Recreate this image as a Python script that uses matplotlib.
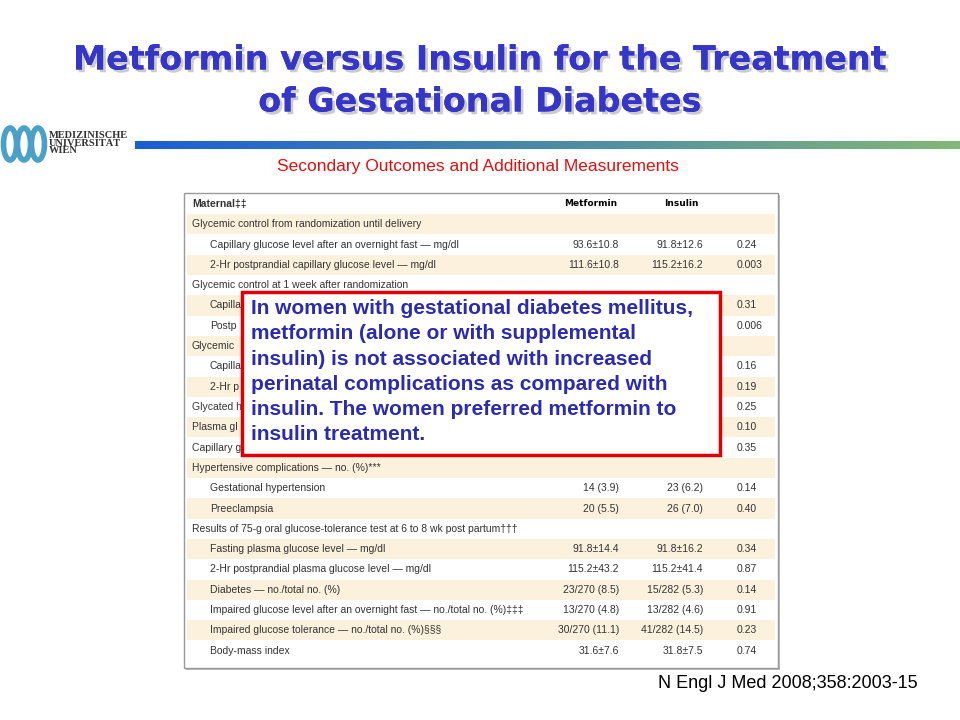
import numpy as np
import matplotlib.pyplot as plt
import matplotlib.patheffects as pe
from matplotlib.patches import Rectangle, Arc
from matplotlib.colors import LinearSegmentedColormap

# --- Data ---
# rows partly hidden behind the callout keep only their visible fragment
row_labels = [
    "Maternal\u2021\u2021",
    "Glycemic control from randomization until delivery",
    "Capillary glucose level after an overnight fast \u2014 mg/dl",
    "2-Hr postprandial capillary glucose level \u2014 mg/dl",
    "Glycemic control at 1 week after randomization",
    "Capilla",
    "Postp",
    "Glycemic",
    "Capilla",
    "2-Hr p",
    "Glycated h",
    "Plasma gl",
    "Capillary g",
    "Hypertensive complications \u2014 no. (%)***",
    "Gestational hypertension",
    "Preeclampsia",
    "Results of 75-g oral glucose-tolerance test at 6 to 8 wk post partum\u2020\u2020\u2020",
    "Fasting plasma glucose level \u2014 mg/dl",
    "2-Hr postprandial plasma glucose level \u2014 mg/dl",
    "Diabetes \u2014 no./total no. (%)",
    "Impaired glucose level after an overnight fast \u2014 no./total no. (%)\u2021\u2021\u2021",
    "Impaired glucose tolerance \u2014 no./total no. (%)\u00a7\u00a7\u00a7",
    "Body-mass index",
]
indented = [0, 0, 1, 1, 0, 1, 1, 0, 1, 1, 0, 0, 0, 0, 1, 1, 0, 1, 1, 1, 1, 1, 1]
metformin = ["Metformin", "", "93.6\u00b110.8", "111.6\u00b110.8", "", "", "", "", "", "", "", "", "", "",
             "14 (3.9)", "20 (5.5)", "", "91.8\u00b114.4", "115.2\u00b143.2", "23/270 (8.5)",
             "13/270 (4.8)", "30/270 (11.1)", "31.6\u00b17.6"]
insulin = ["Insulin", "", "91.8\u00b112.6", "115.2\u00b116.2", "", "", "", "", "", "", "", "", "", "",
           "23 (6.2)", "26 (7.0)", "", "91.8\u00b116.2", "115.2\u00b141.4", "15/282 (5.3)",
           "13/282 (4.6)", "41/282 (14.5)", "31.8\u00b17.5"]
p_values = ["", "", "0.24", "0.003", "", "0.31", "0.006", "", "0.16", "0.19", "0.25", "0.10", "0.35", "",
            "0.14", "0.40", "", "0.34", "0.87", "0.14", "0.91", "0.23", "0.74"]

title_lines = ["Metformin versus Insulin for the Treatment", "of Gestational Diabetes"]
callout = ("In women with gestational diabetes mellitus,\n"
           "metformin (alone or with supplemental\n"
           "insulin) is not associated with increased\n"
           "perinatal complications as compared with\n"
           "insulin. The women preferred metformin to\n"
           "insulin treatment.")

fig = plt.figure(figsize=(9.6, 7.2), dpi=100)
ax = fig.add_axes([0, 0, 1, 1])

# title with shadow
for i, line in enumerate(title_lines):
    ax.text(480, 60 + i * 42, line, ha="center", va="center", fontsize=24, fontweight="bold",
            color="#3535c8", family="DejaVu Sans",
            path_effects=[pe.withSimplePatchShadow(offset=(2, -2), shadow_rgbFace="#999999", alpha=0.5),
                          pe.Normal()])

# gradient bar
grad = np.linspace(0, 1, 256)[None, :]
cmap = LinearSegmentedColormap.from_list("bar", ["#1a5ed8", "#4a8aa8", "#82b878"])
ax.imshow(grad, cmap=cmap, extent=(135, 960, 149, 141), aspect="auto", zorder=2)

# logo
for cx in (10, 24, 38):
    ax.add_patch(Arc((cx, 144), 13, 32, theta1=0, theta2=360, color="#4aa0c8", lw=4))
ax.text(49, 143, "MEDIZINISCHE\nUNIVERSIT\u00c4T\nWIEN", fontsize=7.5, family="Liberation Serif",
        fontweight="bold", va="center", ha="left", linespacing=0.85, color="#333333")

ax.text(478, 167, "Secondary Outcomes and Additional Measurements", ha="center", va="center",
        fontsize=12.5, color="#dd1111", family="Liberation Sans")

# table
x0, x1, y_top, row_h = 184, 778, 193, 20.3
ax.add_patch(Rectangle((x0 + 2, y_top + 2), x1 - x0, 475, facecolor="#bbbbbb", edgecolor="none", zorder=1))
ax.add_patch(Rectangle((x0, y_top), x1 - x0, 475, facecolor="white", edgecolor="#999999", lw=1, zorder=2))
for i, lab in enumerate(row_labels):
    yc = 204 + i * row_h
    if i % 2 == 1:
        ax.add_patch(Rectangle((x0 + 3, yc - row_h / 2), x1 - x0 - 6, row_h, facecolor="#fcf1dc",
                               edgecolor="none", zorder=2))
    ax.text(192 + 18 * indented[i], yc, lab, fontsize=7.5, va="center", ha="left", color="#333333",
            family="Liberation Sans", zorder=3, fontweight="bold" if i == 0 else "normal")
    if i == 0:
        ax.text(591, yc, metformin[i], fontsize=6.5, ha="center", va="center", fontweight="bold", zorder=3)
        ax.text(681, yc, insulin[i], fontsize=6.5, ha="center", va="center", fontweight="bold", zorder=3)
    else:
        ax.text(619, yc, metformin[i], fontsize=7.5, ha="right", va="center", color="#333333",
                family="Liberation Sans", zorder=3)
        ax.text(703, yc, insulin[i], fontsize=7.5, ha="right", va="center", color="#333333",
                family="Liberation Sans", zorder=3)
    ax.text(737, yc, p_values[i], fontsize=7.5, ha="left", va="center", color="#333333",
            family="Liberation Sans", zorder=3)

# callout
ax.add_patch(Rectangle((242, 292), 478, 163, facecolor="white", edgecolor="#e00000", lw=2.5, zorder=5))
ax.text(251, 299, callout, fontsize=15, fontweight="bold", color="#2b2bb0", family="Liberation Sans",
        va="top", ha="left", linespacing=1.42, zorder=6)

ax.text(918, 683, "N Engl J Med 2008;358:2003-15", ha="right", va="center", fontsize=13,
        family="Liberation Sans", color="black")

ax.set_xlim(0, 960)
ax.set_ylim(720, 0)
ax.axis("off")
fig.savefig("out.png", dpi=100)
